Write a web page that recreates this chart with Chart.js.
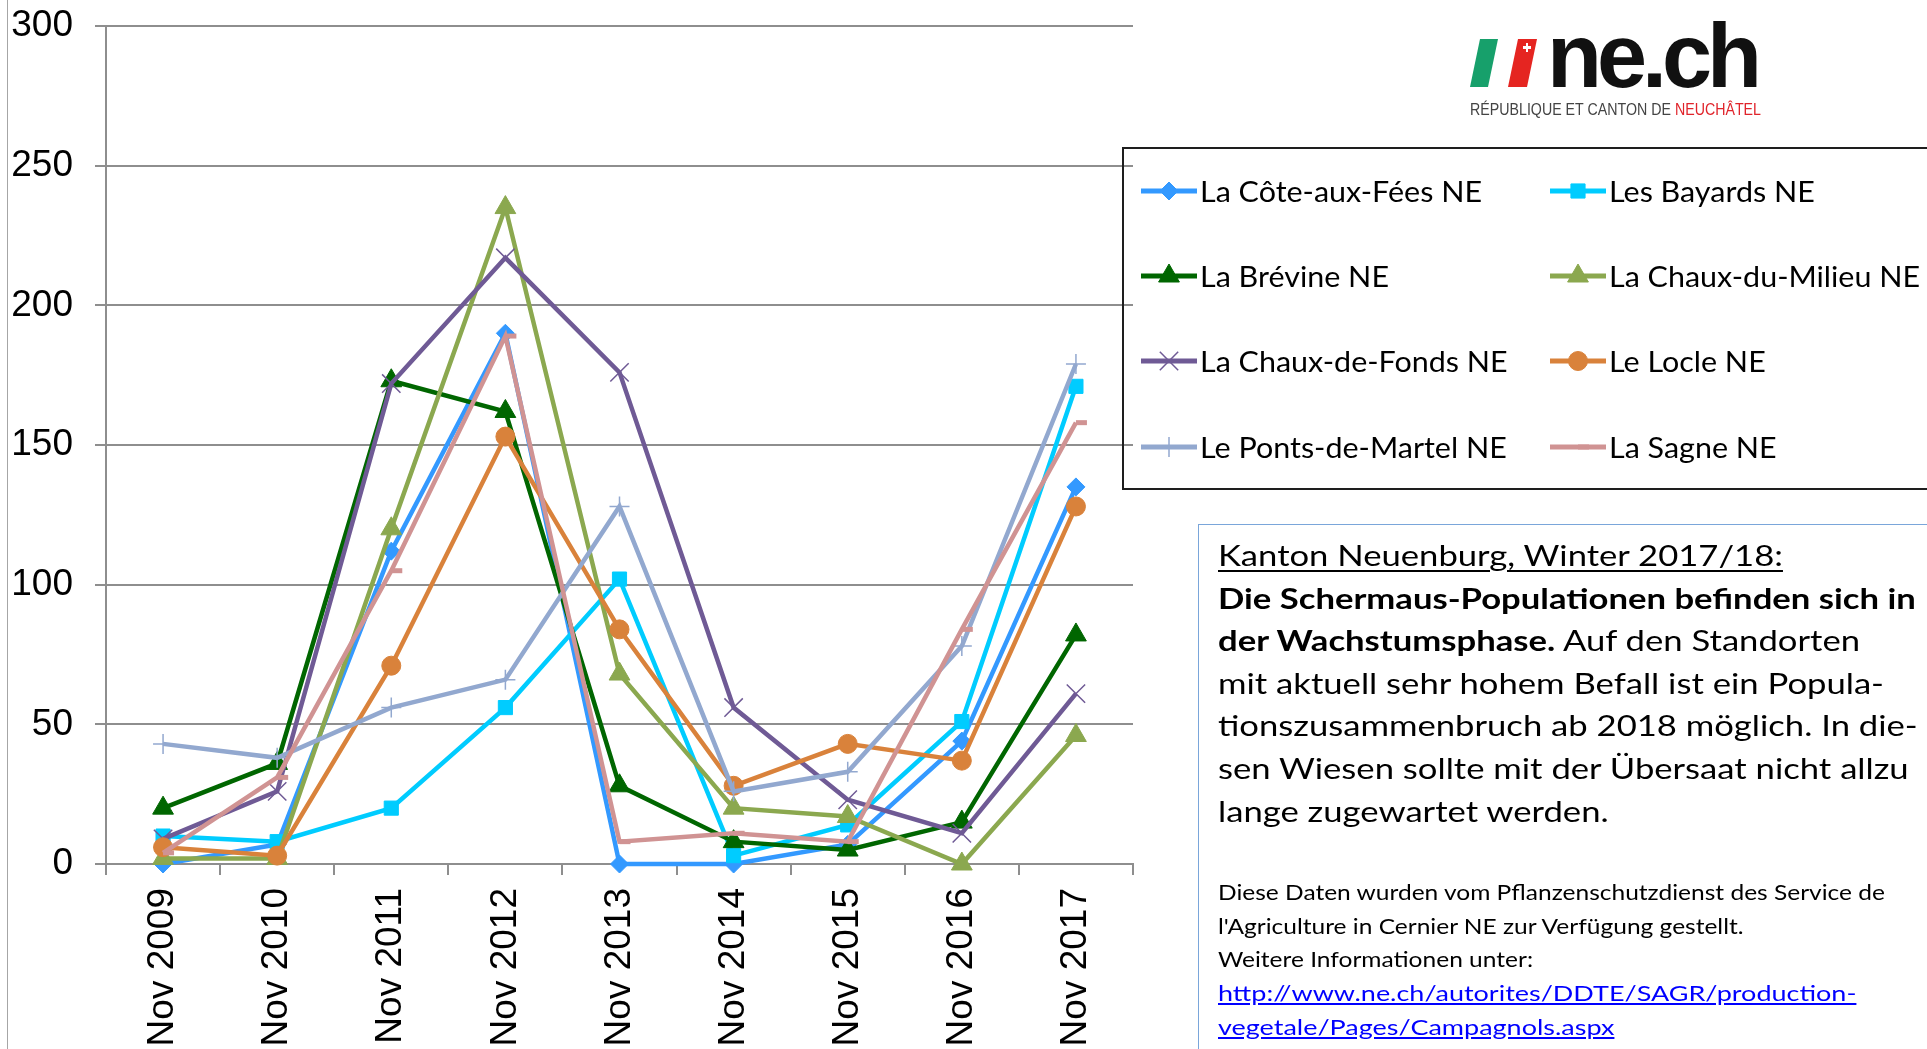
<!DOCTYPE html>
<html>
<head>
<meta charset="utf-8">
<script src="https://cdn.jsdelivr.net/npm/chart.js@4.4.1/dist/chart.umd.min.js"></script>
<style>
  html, body { margin: 0; padding: 0; background: #fff; }
  #wrap { position: relative; width: 1927px; height: 1049px; overflow: hidden; }
  #chart { position: absolute; left: 0; top: 0; }
  .edge { position: absolute; left: 7px; top: 0; width: 1px; height: 1049px; background: #a6a6a6; }
  .bar { position: absolute; top: 39px; height: 48px; }
  #green { left: 1470px; width: 28px; background: #17a06b; clip-path: polygon(10px 0, 28px 0, 18px 100%, 0 100%); }
  #red { left: 1508px; width: 29px; background: #e52521; clip-path: polygon(10px 0, 29px 0, 19px 100%, 0 100%); }
  .cross { position: absolute; background: #fff; }
  #necch { position: absolute; left: 1547px; top: 11px; font: bold 90px "Liberation Sans", Arial, sans-serif;
           line-height: 90px; letter-spacing: -5px; color: #111; white-space: nowrap; }
  #sub { position: absolute; left: 1470px; top: 101px; font: 16.3px "Liberation Sans", Arial, sans-serif;
         line-height: 16.3px; color: #444; white-space: nowrap; transform-origin: 0 0; }
  #sub b { font-weight: normal; color: #e0242b; }
  #note { position: absolute; left: 1198px; top: 524px; width: 800px; height: 600px;
          border: 1.5px solid #7aa6da; }
  .txt { position: absolute; left: 1218px; font-family: Lato, "Open Sans", sans-serif; color: #000;
         white-space: nowrap; transform-origin: 0 0; }
  #big { top: 534px; font-size: 29.3px; line-height: 42.6px; }
  #small { top: 875px; font-size: 21.9px; line-height: 33.7px; }
  #big u { text-underline-offset: 4px; }
  #small a { color: #0000ff; text-decoration: underline; }
  .wide { transform: scaleX(1.1); transform-origin: 0 0; }
</style>
</head>
<body>
<div id="wrap">
  <canvas id="chart" width="1927" height="1049"></canvas>
  <div class="edge"></div>
  <div class="bar" id="green"></div>
  <div class="bar" id="red"></div>
  <div class="cross" style="left:1523px; top:46px; width:8px; height:2.5px;"></div>
  <div class="cross" style="left:1525.8px; top:43px; width:2.5px; height:8.5px;"></div>
  <div id="necch">ne.ch</div>
  <div id="sub"><span>RÉPUBLIQUE ET CANTON DE <b>NEUCHÂTEL</b></span></div>
  <div id="note"></div>
  <div class="txt" id="big">
    <div><span><u>Kanton Neuenburg, Winter 2017/18:</u></span></div>
    <div><span><b>Die Schermaus-Populationen befinden sich in</b></span></div>
    <div><span><b>der Wachstumsphase.</b> Auf den Standorten</span></div>
    <div><span id="bigRef">mit aktuell sehr hohem Befall ist ein Popula-</span></div>
    <div><span>tionszusammenbruch ab 2018 möglich. In die-</span></div>
    <div><span>sen Wiesen sollte mit der Übersaat nicht allzu</span></div>
    <div><span>lange zugewartet werden.</span></div>
  </div>
  <div class="txt" id="small">
    <div><span id="smallRef">Diese Daten wurden vom Pflanzenschutzdienst des Service de</span></div>
    <div><span>l'Agriculture in Cernier NE zur Verfügung gestellt.</span></div>
    <div><span>Weitere Informationen unter:</span></div>
    <div class="wide"><span><a>http://www.ne.ch/autorites/DDTE/SAGR/production-</a></span></div>
    <div class="wide"><span><a>vegetale/Pages/Campagnols.aspx</a></span></div>
  </div>
</div>
<script>
// categories
const months = ['Nov 2009', 'Nov 2010', 'Nov 2011', 'Nov 2012', 'Nov 2013', 'Nov 2014', 'Nov 2015', 'Nov 2016', 'Nov 2017'];

// series
const coteAuxFees   = [0, 7, 112, 190, 0, 0, 7, 44, 135];
const bayards       = [10, 8, 20, 56, 102, 3, 14, 51, 171];
const brevine       = [20, 36, 173, 162, 28, 8, 5, 15, 82];
const chauxDuMilieu = [2, 2, 120, 235, 68, 20, 17, 0, 46];
const chauxDeFonds  = [9, 26, 172, 217, 176, 56, 23, 11, 61];
const locle         = [6, 3, 71, 153, 84, 28, 43, 37, 128];
const pontsDeMartel = [43, 38, 56, 66, 128, 26, 33, 78, 179];
const sagne         = [4, 31, 105, 189, 8, 11, 8, 84, 158];

const yTicks = [0, 50, 100, 150, 200, 250, 300];

const gridColor = '#8e8e8e';

function series(label, data, color, style, radius, pbw) {
  return {
    label: label,
    data: data,
    borderColor: color,
    backgroundColor: color,
    pointBackgroundColor: color,
    pointBorderColor: color,
    borderWidth: 4.5,
    pointStyle: style,
    pointRadius: radius,
    pointBorderWidth: pbw,
    tension: 0,
    fill: false,
    clip: false
  };
}

const datasets = [
  series('La Côte-aux-Fées NE', coteAuxFees, '#3399ff', 'rectRot', 9, 1),
  series('Les Bayards NE', bayards, '#00ccff', 'rect', 10, 1),
  series('La Brévine NE', brevine, '#006600', 'triangle', 12, 1),
  series('La Chaux-du-Milieu NE', chauxDuMilieu, '#8ba84f', 'triangle', 12, 1),
  series('La Chaux-de-Fonds NE', chauxDeFonds, '#6f5a95', 'crossRot', 13, 1.5),
  series('Le Locle NE', locle, '#d9823b', 'circle', 9.5, 1),
  series('Le Ponts-de-Martel NE', pontsDeMartel, '#92a8cf', 'cross', 10, 1.5),
  series('La Sagne NE', sagne, '#d09393', 'dash', 11, 5)
];
// later series drawn on top, as in the original
datasets.forEach((d, i) => { d.order = datasets.length - i; });

// legend in a framed box to the right, two columns
const boxLegend = {
  id: 'boxLegend',
  afterDraw(chart) {
    const ctx = chart.ctx;
    ctx.save();
    ctx.strokeStyle = '#1e1e1e';
    ctx.lineWidth = 2;
    ctx.strokeRect(1123, 148, 840, 341);
    ctx.font = '29.3px Lato, "Open Sans", sans-serif';
    ctx.textBaseline = 'alphabetic';
    const k = 282 / ctx.measureText('La Côte-aux-Fées NE').width;
    const colX = [1141, 1550];
    const rowY = [191, 276, 361, 447];
    chart.data.datasets.forEach((ds, i) => {
      const x = colX[i % 2];
      const y = rowY[Math.floor(i / 2)];
      ctx.strokeStyle = ds.borderColor;
      ctx.lineWidth = 5;
      ctx.lineCap = 'butt';
      ctx.beginPath();
      ctx.moveTo(x, y);
      ctx.lineTo(x + 56, y);
      ctx.stroke();
      ctx.fillStyle = ds.pointBackgroundColor;
      ctx.strokeStyle = ds.pointBorderColor;
      ctx.lineWidth = ds.pointBorderWidth;
      Chart.helpers.drawPoint(ctx, {
        pointStyle: ds.pointStyle, rotation: 0,
        radius: ds.pointRadius, borderWidth: ds.pointBorderWidth
      }, x + 28, y);
      ctx.save();
      ctx.fillStyle = '#000';
      ctx.translate(x + 59, y + 10.5);
      ctx.scale(k, 1);
      ctx.fillText(ds.label, 0, 0);
      ctx.restore();
    });
    ctx.restore();
  }
};

new Chart(document.getElementById('chart').getContext('2d'), {
  type: 'line',
  data: { labels: months, datasets: datasets },
  plugins: [boxLegend],
  options: {
    responsive: false,
    animation: false,
    devicePixelRatio: 1,
    layout: { padding: { top: 26, right: 794, left: 0, bottom: 0 } },
    plugins: { legend: { display: false }, tooltip: { enabled: false } },
    scales: {
      x: {
        type: 'category',
        offset: true,
        grid: { drawOnChartArea: false, drawTicks: true, tickLength: 11, offset: true, color: gridColor, lineWidth: 2 },
        border: { color: gridColor, width: 2 },
        ticks: {
          autoSkip: false, minRotation: 90, maxRotation: 90, padding: 13, color: '#000',
          font: { family: '"Liberation Sans", Arial, sans-serif', size: 37 }
        },
        afterFit: s => { s.height = 185; }
      },
      y: {
        min: 0,
        max: 300,
        afterBuildTicks: s => { s.ticks = yTicks.map(v => ({ value: v })); },
        grid: { color: gridColor, lineWidth: 2, tickLength: 11 },
        border: { color: gridColor, width: 2 },
        ticks: {
          padding: 22, color: '#000',
          font: { family: '"Liberation Sans", Arial, sans-serif', size: 37 }
        },
        afterFit: s => { s.width = 106; s.paddingTop = 0; s.paddingBottom = 0; }
      }
    }
  }
});

// squeeze the side texts to the widths of the original (condensed face)
function fit(blockId, refId, target) {
  const w = document.getElementById(refId).getBoundingClientRect().width;
  document.getElementById(blockId).style.transform = 'scaleX(' + (target / w) + ')';
}
fit('big', 'bigRef', 666);
fit('small', 'smallRef', 667);
const subW = document.querySelector('#sub span').getBoundingClientRect().width;
document.getElementById('sub').style.transform = 'scaleX(' + (291 / subW) + ')';
</script>
</body>
</html>
